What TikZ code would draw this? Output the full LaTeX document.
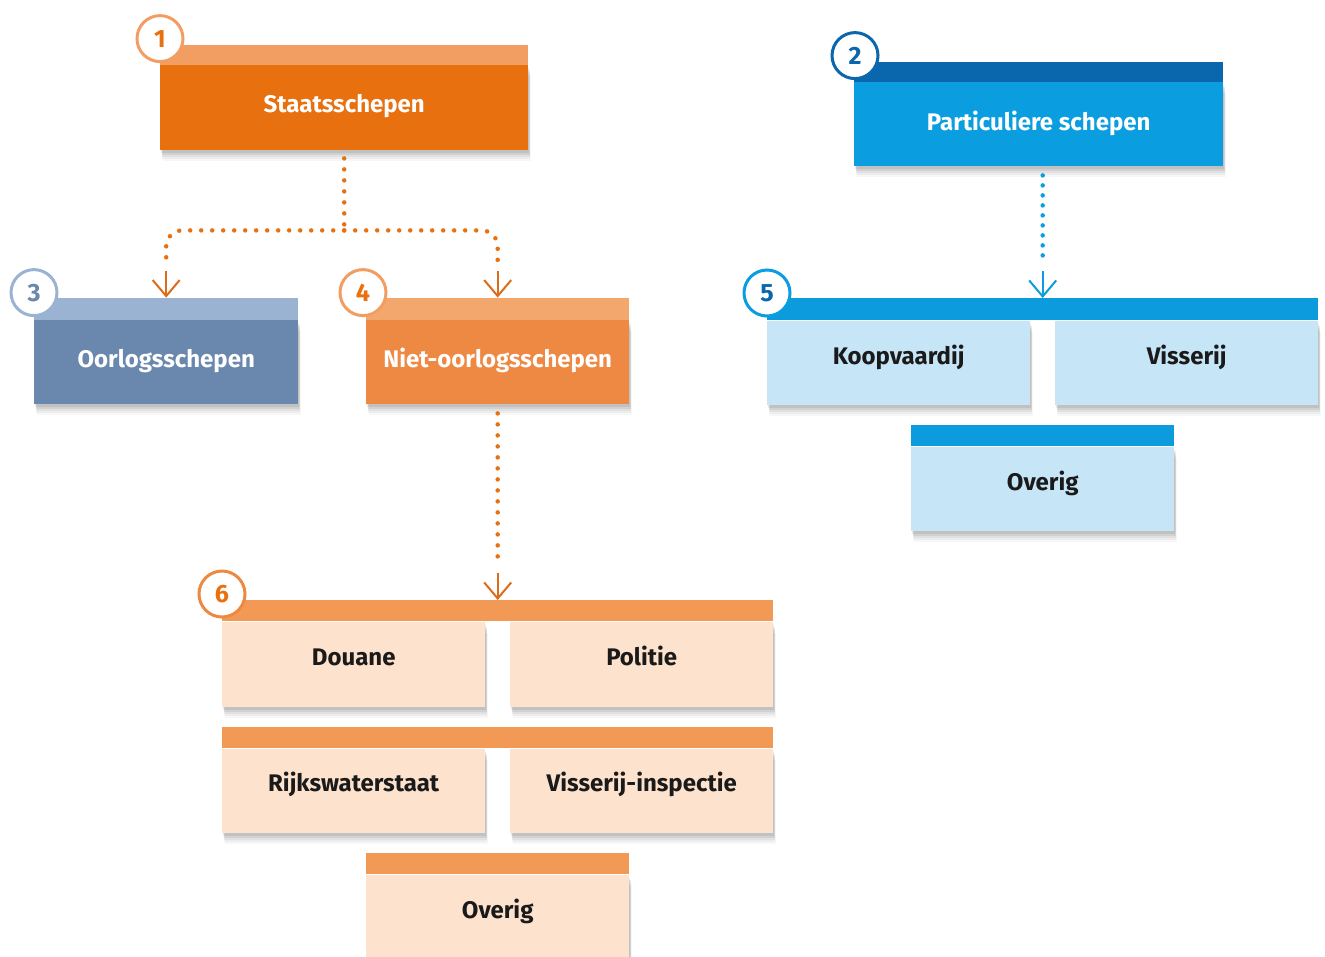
\documentclass[tikz,border=0pt]{standalone}
\usepackage{fontspec}
\setmainfont{Fira Sans}
\usetikzlibrary{arrows.meta,shadows,calc}
\definecolor{orMain}{HTML}{E8700E}
\definecolor{orHead}{HTML}{F29E62}
\definecolor{orMid}{HTML}{EE8943}
\definecolor{orMidHead}{HTML}{F4A76C}
\definecolor{orBar}{HTML}{F29A55}
\definecolor{orLight}{HTML}{FDE3CD}
\definecolor{orLine}{HTML}{DD6C1A}
\definecolor{blMain}{HTML}{0A9DE0}
\definecolor{blDark}{HTML}{0A66AD}
\definecolor{blBar}{HTML}{0C9CDD}
\definecolor{blLight}{HTML}{C6E6F7}
\definecolor{grMain}{HTML}{6A87AD}
\definecolor{grHead}{HTML}{9BB3D3}
\definecolor{txtDark}{HTML}{1A1A1A}
\tikzset{
  softshadow/.style={
    general shadow={shadow xshift=2.5pt, shadow yshift=-11pt, opacity=0.03, fill=black},
    general shadow={shadow xshift=2pt, shadow yshift=-9pt, opacity=0.04, fill=black},
    general shadow={shadow xshift=2pt, shadow yshift=-7pt, opacity=0.05, fill=black},
    general shadow={shadow xshift=1.5pt, shadow yshift=-5pt, opacity=0.07, fill=black},
    general shadow={shadow xshift=1pt, shadow yshift=-3pt, opacity=0.08, fill=black}},
  bodybox/.style={rectangle, inner sep=0pt, draw=none, anchor=north west, softshadow},
  headbox/.style={rectangle, inner sep=0pt, draw=none},
  lbl/.style={anchor=base, inner sep=0pt, font=\fontsize{24}{28}\selectfont\bfseries},
  numc/.style={circle, fill=white, line width=3pt, minimum size=46pt, inner sep=0pt,
    font=\fontsize{25}{28}\selectfont\bfseries},
  dotor/.style={draw=orMain, line width=4.5pt, line cap=round, dash pattern=on 0pt off 11pt},
  dotbl/.style={draw=blMain, line width=4.5pt, line cap=round, dash pattern=on 0pt off 10pt},
  tipline/.style={line width=2pt, -{Straight Barb[length=16pt,width=27pt]}}
}
\begin{document}
\begin{tikzpicture}[x=1pt,y=-1pt]
\useasboundingbox (0,0) rectangle (1325,956);
\clip (0,0) rectangle (1325,956);

% 1 Staatsschepen
\node[bodybox, fill=orMain, minimum width=368pt, minimum height=85pt] (b1) at (160,65) {};
\node[headbox, anchor=south west, fill=orHead, minimum width=368pt, minimum height=20pt] (h1) at (b1.north west) {};
\node[lbl, text=white] (t1) at ($(b1.center)+(0,5)$) {Staatsschepen};

% 2 Particuliere schepen
\node[bodybox, fill=blMain, minimum width=369pt, minimum height=84pt] (b2) at (854,82) {};
\node[headbox, anchor=south west, fill=blDark, minimum width=369pt, minimum height=20pt] (h2) at (b2.north west) {};
\node[lbl, text=white] (t2) at ($(b2.center)+(0,6)$) {Particuliere schepen};

% 3 Oorlogsschepen
\node[bodybox, fill=grMain, minimum width=264pt, minimum height=84pt] (b3) at (34,320) {};
\node[headbox, anchor=south west, fill=grHead, minimum width=264pt, minimum height=22pt] (h3) at (b3.north west) {};
\node[lbl, text=white] (t3) at ($(b3.center)+(0,5)$) {Oorlogsschepen};

% 4 Niet-oorlogsschepen
\node[bodybox, fill=orMid, minimum width=263pt, minimum height=84pt] (b4) at (366,320) {};
\node[headbox, anchor=south west, fill=orMidHead, minimum width=263pt, minimum height=22pt] (h4) at (b4.north west) {};
\node[lbl, text=white] (t4) at ($(b4.center)+(0,5)$) {Niet-oorlogsschepen};

% 5 group
\node[headbox, anchor=north west, fill=blBar, minimum width=551pt, minimum height=22pt] (h5) at (767,298) {};
\node[bodybox, fill=blLight, minimum width=263pt, minimum height=84pt] (b5a) at (h5.south west) {};
\node[bodybox, anchor=north east, fill=blLight, minimum width=263pt, minimum height=84pt] (b5b) at (h5.south east) {};
\node[lbl, text=txtDark] (t5a) at ($(b5a.center)+(0,2)$) {Koopvaardij};
\node[lbl, text=txtDark] (t5b) at ($(b5b.center)+(0,2)$) {Visserij};
\node[headbox, anchor=north west, fill=blBar, minimum width=263pt, minimum height=21pt] (h5c) at (911,425) {};
\node[bodybox, fill=blLight, minimum width=263pt, minimum height=84pt] (b5c) at (h5c.south west) {};
\node[lbl, text=txtDark] (t5c) at ($(b5c.center)+(0,2)$) {Overig};

% 6 group
\node[headbox, anchor=north west, fill=orBar, minimum width=551pt, minimum height=21pt] (h6) at (222,600) {};
\node[bodybox, fill=orLight, minimum width=263pt, minimum height=85pt] (b6a) at (h6.south west) {};
\node[bodybox, anchor=north east, fill=orLight, minimum width=263pt, minimum height=85pt] (b6b) at (h6.south east) {};
\node[lbl, text=txtDark] (t6a) at ($(b6a.center)+(0,1)$) {Douane};
\node[lbl, text=txtDark] (t6b) at ($(b6b.center)+(0,1)$) {Politie};
\node[headbox, anchor=north west, fill=orBar, minimum width=551pt, minimum height=21pt] (h6r) at (222,727) {};
\node[bodybox, fill=orLight, minimum width=263pt, minimum height=84pt] (b6c) at (h6r.south west) {};
\node[bodybox, anchor=north east, fill=orLight, minimum width=263pt, minimum height=84pt] (b6d) at (h6r.south east) {};
\node[lbl, text=txtDark] (t6c) at ($(b6c.center)+(0,1)$) {Rijkswaterstaat};
\node[lbl, text=txtDark] (t6d) at ($(b6d.center)+(0,1)$) {Visserij-inspectie};
\node[headbox, anchor=north west, fill=orBar, minimum width=263pt, minimum height=21pt] (h6e) at (366,853) {};
\node[bodybox, fill=orLight, minimum width=263pt, minimum height=100pt] (b6e) at (h6e.south west) {};
\node[lbl, text=txtDark] (t6e) at ($(h6e.south)+(0,44)$) {Overig};

% connectors
\coordinate (j1) at ($(b1.south)+(0,80)$);
\coordinate (s3) at ($(h3.north)+(0,-27)$);
\coordinate (s4) at ($(h4.north)+(0,-27)$);
\coordinate (s6) at ($(h6.north)+(0,-27)$);
\coordinate (s5) at ($(h5.north)+(0,-27)$);
\draw[dotor] ($(b1.south)+(0,8)$) -- (j1);
\draw[dotor, rounded corners=16pt] (j1) -| ($(h3.north)+(0,-36)$);
\draw[dotor, rounded corners=16pt] (j1) -| ($(h4.north)+(0,-36)$);
\draw[tipline, draw=orLine] (s3) -- (h3.north);
\draw[tipline, draw=orLine] (s4) -- (h4.north);
\draw[dotor] ($(b4.south)+(0,9)$) -- ($(h6.north)+(0,-36)$);
\draw[tipline, draw=orLine] (s6) -- (h6.north);
\draw[dotbl] ($(b2.south -| h5.north)+(0,9)$) -- ($(h5.north)+(0,-35)$);
\draw[tipline, draw=blMain] (s5) -- (h5.north);

% number circles
\node[numc, draw=orHead, text=orMain] (c1) at ($(h1.north west)+(0,-6)$) {1};
\node[numc, draw=blDark, text=blDark] (c2) at ($(h2.north west)+(1,-6)$) {2};
\node[numc, draw=grHead, text=grMain] (c3) at ($(h3.north west)+(0,-5)$) {3};
\node[numc, draw=orHead, text=orMain] (c4) at ($(h4.north west)+(-3,-5)$) {4};
\node[numc, draw=blMain, text=blDark] (c5) at ($(h5.north west)+(0,-5)$) {5};
\node[numc, draw=orMid, text=orMain] (c6) at ($(h6.north west)+(0,-6)$) {6};
\end{tikzpicture}
\end{document}
